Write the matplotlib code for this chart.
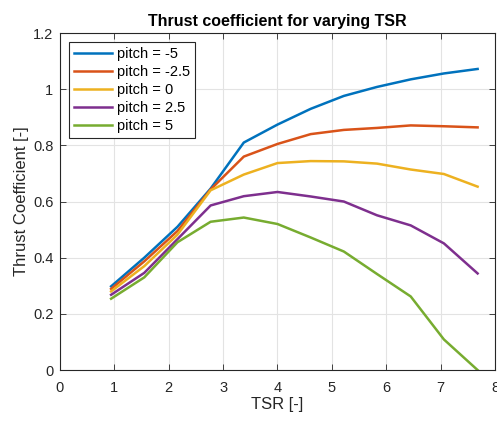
import numpy as np
import matplotlib.pyplot as plt

plt.rcParams['font.family'] = ['Liberation Sans', 'DejaVu Sans']

# ===== data =====
tsr = [0.94, 1.55, 2.16, 2.77, 3.38, 4.0, 4.61, 5.22, 5.83, 6.45, 7.06, 7.68]

ct_m5 = [0.298, 0.400, 0.510, 0.646, 0.810, 0.874, 0.930, 0.976, 1.008, 1.035, 1.056, 1.072]
ct_m25 = [0.289, 0.387, 0.495, 0.643, 0.760, 0.805, 0.840, 0.855, 0.862, 0.871, 0.868, 0.864]
ct_0 = [0.280, 0.370, 0.482, 0.640, 0.696, 0.737, 0.744, 0.743, 0.735, 0.714, 0.698, 0.653]
ct_p25 = [0.268, 0.346, 0.466, 0.586, 0.619, 0.634, 0.618, 0.600, 0.551, 0.515, 0.451, 0.344]
ct_p5 = [0.254, 0.330, 0.455, 0.528, 0.543, 0.520, 0.472, 0.422, 0.342, 0.262, 0.109, 0.0]

series = [
    ('pitch = -5', ct_m5, '#0072BD'),
    ('pitch = -2.5', ct_m25, '#D95319'),
    ('pitch = 0', ct_0, '#EDB120'),
    ('pitch = 2.5', ct_p25, '#7E2F8E'),
    ('pitch = 5', ct_p5, '#77AC30'),
]

fig = plt.figure(figsize=(4.97, 4.21), dpi=100)
ax = fig.add_axes([0.1207, 0.121, 0.8753, 0.8006])

for label, vals, col in series:
    ax.plot(tsr, vals, color=col, lw=1.8, label=label)

ax.set_xlim(0, 8)
ax.set_ylim(0, 1.2)
ax.set_xticks(np.arange(0, 9, 1))
ax.set_yticks(np.arange(0, 1.21, 0.2))
ax.set_yticklabels(['0', '0.2', '0.4', '0.6', '0.8', '1', '1.2'])

ax.grid(True, color='#e3e3e3', lw=0.8)
ax.set_axisbelow(True)
for sp in ax.spines.values():
    sp.set_color('#262626')
    sp.set_linewidth(0.8)
ax.tick_params(direction='in', length=4, width=0.6, colors='#262626',
               labelsize=10.5, top=True, right=True)
ax.tick_params(axis='x', pad=8)
ax.tick_params(axis='y', pad=4.8)

ax.set_xlabel('TSR [-]', fontsize=12, color='#262626', labelpad=1)
ax.set_ylabel('Thrust Coefficient [-]', fontsize=12, color='#262626', labelpad=2.5)
ax.set_title('Thrust coefficient for varying TSR', fontsize=11.5,
             fontweight='bold', pad=5)

leg = ax.legend(loc='upper left', fontsize=10.5, fancybox=False,
                framealpha=1, edgecolor='#262626', handlelength=2.6,
                handletextpad=0.35, labelspacing=0.28, borderpad=0.35,
                borderaxespad=0.6)
leg.get_frame().set_linewidth(0.8)

plt.savefig('out.png', dpi=100)
